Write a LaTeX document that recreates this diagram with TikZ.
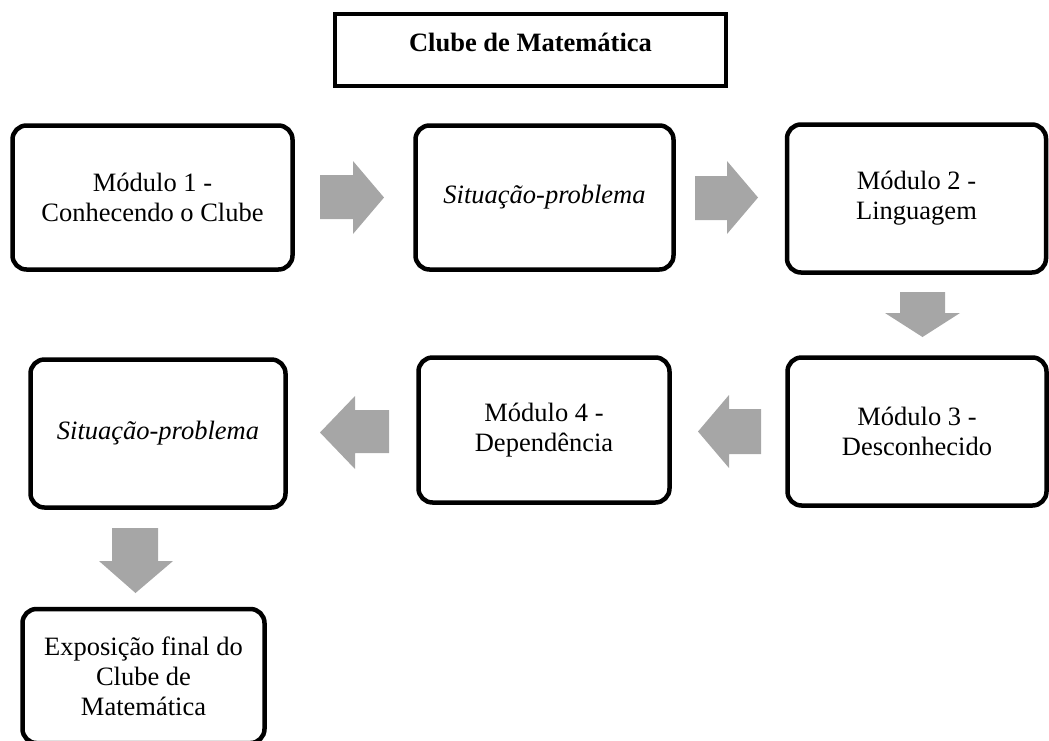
\documentclass[tikz,border=0pt]{standalone}
\usepackage{fontspec}
\setmainfont{Liberation Serif}
\definecolor{arrowgray}{RGB}{166,166,166}
\begin{document}
\begin{tikzpicture}[x=1pt,y=-1pt]
\tikzset{
  stagebox/.style={draw=black, line width=4.5pt, rounded corners=14pt, fill=white,
    align=center, inner sep=0pt, font=\fontsize{26.5}{30}\selectfont},
  titlebox/.style={draw=black, line width=4pt, fill=white, inner sep=0pt},
  blockarrow/.style={fill=arrowgray, draw=none},
}
\useasboundingbox (0,0) rectangle (1049,740);

% title
\node[titlebox, minimum width=391, minimum height=72] (title) at (530.5,50) {};
\node[font=\fontsize{26.5}{30}\selectfont\bfseries] (titletext) at (530.5,42) {Clube de Matemática};

% stages, first row
\node[stagebox, minimum width=280, minimum height=144] (m1) at (152.5,197.5) {Módulo 1 -\\Conhecendo o Clube};
\node[stagebox, minimum width=258, minimum height=144] (sp1) at (544.5,197.5) {\itshape Situação-problema};
\node[stagebox, minimum width=259, minimum height=148] (m2) at (916.5,198.5) {Módulo 2 -\\Linguagem};

% stages, second row
\node[stagebox, minimum width=259, minimum height=148] (m3) at (917,431.5) {Módulo 3 -\\Desconhecido};
\node[stagebox, minimum width=251, minimum height=145] (m4) at (544,430) {Módulo 4 -\\Dependência};
\node[stagebox, minimum width=255, minimum height=148] (sp2) at (158,433.5) {\itshape Situação-problema};

% final stage
\node[stagebox, minimum width=242, minimum height=134] (expo) at (143.5,676) {Exposição final do\\Clube de\\Matemática};

% block arrows between the stages
% m1 -> sp1
\fill[blockarrow] (320,175) -- (353,175) -- (353,161) -- (384,197.5) -- (353,234) -- (353,219) -- (320,219) -- cycle;
% sp1 -> m2
\fill[blockarrow] (695,176) -- (727,176) -- (727,161) -- (758,197.5) -- (727,234) -- (727,220) -- (695,220) -- cycle;
% m2 -> m3
\fill[blockarrow] (900,292) -- (945,292) -- (945,313) -- (960,313) -- (922.5,337) -- (885,313) -- (900,313) -- cycle;
% m3 -> m4
\fill[blockarrow] (761,409) -- (729,409) -- (729,395) -- (698,431.5) -- (729,468) -- (729,454) -- (761,454) -- cycle;
% m4 -> sp2
\fill[blockarrow] (389,410) -- (355,410) -- (355,396) -- (320,432.5) -- (355,469) -- (355,453) -- (389,453) -- cycle;
% sp2 -> expo
\fill[blockarrow] (112,528) -- (158,528) -- (158,561) -- (173,561) -- (135.5,593) -- (99,561) -- (112,561) -- cycle;
\end{tikzpicture}
\end{document}
